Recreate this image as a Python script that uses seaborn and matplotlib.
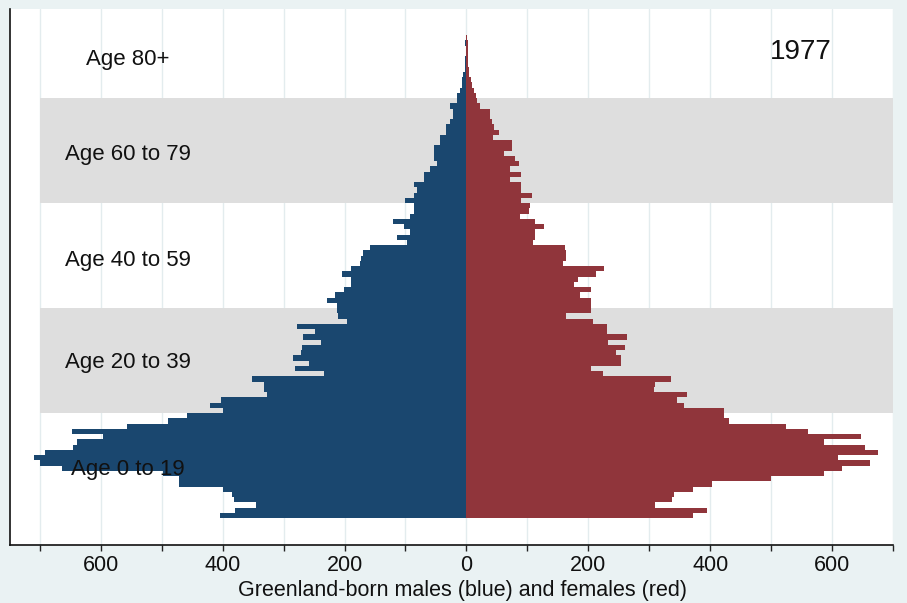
import matplotlib
matplotlib.use("Agg")
import matplotlib.pyplot as plt
import pandas as pd
import seaborn as sns

# ---------------- data ----------------
ages = list(range(0, 96))
males = [405, 380, 345, 382, 385, 400, 471, 471, 498, 664,
         700, 710, 691, 645, 639, 596, 647, 557, 490, 459,
         400, 420, 403, 328, 332, 332, 352, 233, 281, 258,
         284, 272, 270, 238, 268, 248, 278, 196, 210, 212,
         212, 229, 215, 201, 190, 190, 204, 190, 174, 173,
         169, 158, 98, 114, 93, 103, 120, 92, 86, 86,
         100, 86, 81, 86, 70, 70, 59, 48, 54, 54,
         54, 43, 43, 33, 33, 27, 22, 22, 27, 15,
         15, 11, 7, 7, 5, 3, 3, 2, 1, 0,
         3, 0, 0, 0, 0, 0]
females = [372, 394, 310, 338, 340, 372, 403, 499, 586, 617,
           663, 609, 675, 654, 587, 647, 561, 524, 431, 422,
           422, 357, 345, 362, 308, 310, 335, 224, 205, 254,
           254, 245, 260, 233, 263, 230, 231, 208, 164, 204,
           205, 205, 186, 204, 177, 183, 212, 225, 159, 164,
           164, 161, 110, 112, 112, 127, 112, 88, 102, 105,
           90, 108, 89, 90, 72, 90, 71, 86, 80, 61,
           74, 74, 43, 53, 45, 42, 39, 39, 23, 18,
           15, 12, 9, 7, 5, 5, 3, 2, 2, 2,
           2, 1, 0, 0, 0, 0]

x_ticks = [-700, -600, -500, -400, -300, -200, -100, 0,
           100, 200, 300, 400, 500, 600, 700]
x_tick_labels = ["", "600", "", "400", "", "200", "", "0",
                 "", "200", "", "400", "", "600", ""]

band_labels = ["Age 0 to 19", "Age 20 to 39", "Age 40 to 59", "Age 60 to 79", "Age 80+"]
shaded_bands = [(20, 39), (60, 79)]
year_label = "1977"
x_title = "Greenland-born males (blue) and females (red)"

# ---------------- style ----------------
BLUE = "#1A476F"
RED = "#90353B"
BG = "#EAF2F3"
BAND = "#DEDEDE"
GRID = "#E3ECEE"

sns.set_theme(style="white")
plt.rcParams["font.family"] = ["Liberation Sans", "DejaVu Sans"]

fig = plt.figure(figsize=(9.07, 6.03), dpi=100, facecolor=BG)
ax = fig.add_axes([10 / 907, 1 - 545 / 603, 883 / 907, (545 - 9) / 603])
ax.set_facecolor("white")

df = pd.DataFrame({
    "age": ages + ages,
    "count": [-m for m in males] + females,
    "sex": ["Male"] * len(ages) + ["Female"] * len(ages),
})

sns.barplot(data=df, x="count", y="age", hue="sex", orient="h",
            native_scale=True, width=1, dodge=False,
            palette={"Male": BLUE, "Female": RED}, saturation=1,
            errorbar=None, linewidth=0, legend=False, ax=ax, zorder=3)

# shaded age bands
for lo, hi in shaded_bands:
    ax.fill_betweenx([lo - 0.5, hi + 0.5], x_ticks[0], x_ticks[-1],
                     color=BAND, linewidth=0, zorder=1)

# grid
for t in x_ticks:
    ax.axvline(t, color=GRID, linewidth=1, zorder=0.5)

ax.set_xlim(-749, 700)
ax.set_ylim(-5.6, 96.5)

ax.set_xticks(x_ticks)
ax.set_xticklabels(x_tick_labels, fontsize=15.5, color="#111111")
ax.tick_params(axis="x", direction="out", length=4, width=1,
               color="#222222", pad=3.5, bottom=True)
ax.set_yticks([])
ax.set_ylabel("")
ax.set_xlabel(x_title, fontsize=15.5, color="#111111")
ax.xaxis.set_label_coords(0.512, -0.0655)

for side in ["top", "right"]:
    ax.spines[side].set_visible(False)
for side in ["left", "bottom"]:
    ax.spines[side].set_visible(True)
    ax.spines[side].set_color("#111111")
    ax.spines[side].set_linewidth(1.2)

label_y = [7.75, 28.1, 47.6, 67.75, 85.9]
for lab, yy in zip(band_labels, label_y):
    ax.text(-555, yy, lab, ha="center", va="baseline", fontsize=16,
            color="#111111", zorder=5)

ax.text(548, 87.0, year_label, ha="center", va="baseline", fontsize=20,
        color="#111111", zorder=5)

fig.savefig("out.png", dpi=100, facecolor=BG)
